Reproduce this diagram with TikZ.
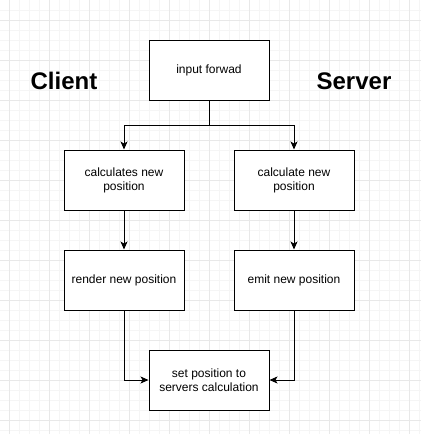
\documentclass[tikz,border=0pt]{standalone}
\usepackage{fontspec}
\setmainfont{Liberation Sans}
\usetikzlibrary{arrows.meta, positioning}

\begin{document}
\begin{tikzpicture}[x=1pt, y=-1pt,
      box/.style={rectangle, draw, fill=white, line width=1pt, minimum width=120pt, minimum height=60pt,
        align=center, font=\fontsize{12}{14}\selectfont, inner sep=0pt},
      side/.style={font=\fontsize{24}{28}\selectfont\bfseries},
      link/.style={line width=1pt, -{Stealth[length=8pt, width=7pt, inset=2pt]}},
    ]
      \useasboundingbox (0,0) rectangle (421,434);
      % grid
      \foreach \x in {9.5,19.5,...,419.5} \draw[black!4, line width=1pt] (\x,0) -- (\x,434);
      \foreach \y in {10,20,...,430} \draw[black!4, line width=1pt] (0,\y) -- (421,\y);
      \foreach \x in {9.5,49.5,...,409.5} \draw[black!9, line width=1pt] (\x,0) -- (\x,434);
      \foreach \y in {20,60,...,420} \draw[black!9, line width=1pt] (0,\y) -- (421,\y);
      \node[box] (input) at (209,70) {input forwad};
      \node[box] (calc1) at (124,180) {calculates new\\position};
      \node[box] (calc2) at (294,180) {calculate new\\position};
      \node[box] (render) at (124,280) {render new position};
      \node[box] (emit) at (294,280) {emit new position};
      \node[box] (set) at (209,380) {set position to\\servers calculation};
      \node[side] (client) at (64,81) {Client};
      \node[side] (server) at (354,81) {Server};
      \coordinate (fork) at (209,125);
      \draw[line width=1pt] (input) -- (fork);
      \draw[link] (fork) -| (calc1);
      \draw[link] (fork) -| (calc2);
      \draw[link] (calc1) -- (render);
      \draw[link] (calc2) -- (emit);
      \draw[link] (render) |- (set);
      \draw[link] (emit) |- (set);
    \end{tikzpicture}
\end{document}
